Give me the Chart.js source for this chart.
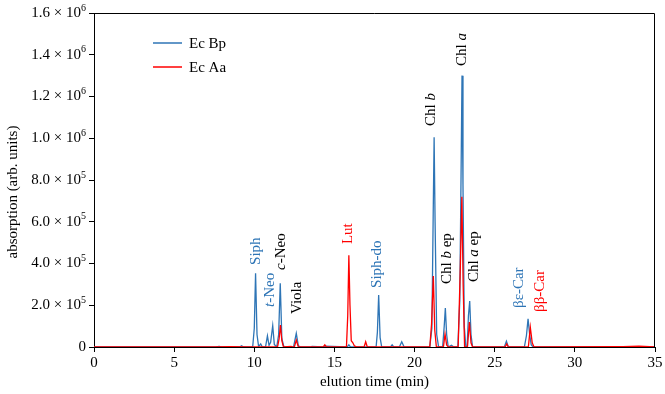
<!DOCTYPE html>
<html>
<head>
<meta charset="utf-8">
<script src="https://cdn.jsdelivr.net/npm/chart.js@4.4.1/dist/chart.umd.min.js"></script>
<style>
  html, body { margin: 0; padding: 0; background: #fff; }
  #wrap { width: 665px; height: 394px; }
</style>
</head>
<body>
<div id="wrap"><canvas id="chromChart" width="665" height="394"></canvas></div>
<script>
// elution time (min) and absorption for Ec Bp (blue)
const timeBp = [0, 7.6, 7.8, 8.0, 9.1, 9.2, 9.35, 9.9, 10.0, 10.08, 10.17, 10.27, 10.4, 10.5,
  10.7, 10.82, 10.92, 11.02, 11.15, 11.25, 11.4, 11.52, 11.62, 11.72, 11.85,
  12.45, 12.62, 12.75, 12.9, 13.5, 13.6, 14.3, 14.4, 15.8, 15.9, 16.0,
  17.6, 17.68, 17.76, 17.85, 17.95, 18.5, 18.6, 18.7, 19.05, 19.2, 19.35,
  20.95, 21.08, 21.16, 21.22, 21.28, 21.38, 21.5,
  21.75, 21.85, 21.92, 22.0, 22.1, 22.3, 22.45,
  22.7, 22.82, 22.9, 22.96, 23.02, 23.1, 23.2,
  23.28, 23.36, 23.44, 23.52, 23.62,
  25.6, 25.73, 25.85, 26.85, 26.98, 27.08, 27.18, 27.28, 27.4, 35];
const valueBp = [0, 0, 3000, 0, 0, 6000, 0, 0, 90000, 353000, 60000, 2000, 15000, 0,
  0, 53000, 8000, 22000, 102000, 12000, 0, 60000, 305000, 40000, 0,
  0, 65000, 6000, 0, 0, 3000, 0, 4000, 0, 10000, 0,
  0, 70000, 249000, 45000, 0, 0, 10000, 0, 0, 25000, 0,
  0, 90000, 620000, 1005000, 600000, 60000, 0,
  0, 100000, 187000, 60000, 0, 8000, 0,
  0, 220000, 820000, 1300000, 780000, 100000, 0,
  0, 150000, 220000, 60000, 0,
  0, 28000, 0, 0, 55000, 135000, 60000, 10000, 0, 0];

// elution time (min) and absorption for Ec Aa (red)
const timeAa = [0, 7.5, 8.5, 9.5, 11.45, 11.55, 11.63, 11.72, 11.82,
  12.3, 12.4, 12.5, 12.62, 12.75, 14.3, 14.4, 14.5,
  15.75, 15.83, 15.9, 15.97, 16.05, 16.15, 16.25, 16.4,
  16.85, 16.95, 17.05, 20.95, 21.06, 21.17, 21.26, 21.36,
  21.8, 21.9, 22.0, 22.1, 22.72, 22.86, 22.95, 23.03, 23.12,
  23.3, 23.42, 23.52, 23.62, 25.65, 25.75, 25.85,
  27.1, 27.22, 27.34, 27.45, 33, 34, 35];
const valueAa = [0, 1000, 2000, 1000, 0, 40000, 105000, 30000, 0,
  3000, 0, 0, 33000, 0, 0, 10000, 0,
  0, 150000, 440000, 200000, 30000, 20000, 5000, 0,
  0, 25000, 0, 0, 110000, 340000, 80000, 0,
  0, 62000, 10000, 0, 0, 400000, 720000, 300000, 0,
  0, 120000, 20000, 0, 0, 15000, 0,
  0, 95000, 20000, 0, 2000, 4000, 1000];

const seriesNames = ['Ec Bp', 'Ec Aa'];
const blue = '#2e75b6';
const red = '#ff0000';

// peak labels: segments [text, italic], anchor time and value at bottom of text
const peakLabels = [
  { parts: [['Siph', false]], t: 10.1, v: 393000, color: blue },
  { parts: [['t', true], ['-Neo', false]], t: 10.98, v: 192000, color: blue },
  { parts: [['c', true], ['-Neo', false]], t: 11.67, v: 369000, color: '#000' },
  { parts: [['Viola', false]], t: 12.66, v: 158000, color: '#000' },
  { parts: [['Lut', false]], t: 15.85, v: 493000, color: red },
  { parts: [['Siph-do', false]], t: 17.65, v: 283000, color: blue },
  { parts: [['Chl ', false], ['b', true]], t: 21.02, v: 1059000, color: '#000' },
  { parts: [['Chl ', false], ['b', true], [' ep', false]], t: 22.02, v: 302000, color: '#000' },
  { parts: [['Chl ', false], ['a', true]], t: 22.96, v: 1346000, color: '#000' },
  { parts: [['Chl ', false], ['a', true], [' ep', false]], t: 23.7, v: 311000, color: '#000' },
  { parts: [['βε-Car', false]], t: 26.51, v: 187000, color: blue },
  { parts: [['ββ-Car', false]], t: 27.82, v: 168000, color: red }
];

const serif = '"Liberation Serif", "Times New Roman", serif';

const toPoints = (ts, vs) => ts.map((t, i) => ({ x: t, y: vs[i] }));

const decorations = {
  id: 'decorations',
  afterDraw(chart) {
    const ctx = chart.ctx;
    const area = chart.chartArea;
    const xs = chart.scales.x;
    const ys = chart.scales.y;
    ctx.save();

    // frame top + right
    ctx.strokeStyle = '#000';
    ctx.lineWidth = 1;
    ctx.beginPath();
    ctx.moveTo(area.left, area.top + 0.5);
    ctx.lineTo(area.right - 0.5, area.top + 0.5);
    ctx.lineTo(area.right - 0.5, area.bottom);
    ctx.stroke();

    // y tick labels with powers of ten
    ctx.fillStyle = '#000';
    ctx.textBaseline = 'middle';
    ys.ticks.forEach(tk => {
      const y = ys.getPixelForValue(tk.value);
      const right = 86;
      if (tk.value === 0) {
        ctx.font = '15px ' + serif;
        ctx.textAlign = 'right';
        ctx.fillText('0', right, y);
        return;
      }
      const exp = Math.floor(Math.log10(tk.value));
      const mant = (tk.value / Math.pow(10, exp)).toFixed(1);
      ctx.font = '10px ' + serif;
      const supW = ctx.measureText(String(exp)).width;
      ctx.textAlign = 'right';
      ctx.fillText(String(exp), right, y - 5);
      ctx.font = '15px ' + serif;
      ctx.fillText(mant + ' × 10', right - supW, y);
    });

    // axis titles
    ctx.font = '15px ' + serif;
    ctx.textAlign = 'center';
    ctx.fillText('elution time (min)', (area.left + area.right) / 2, 382);
    ctx.save();
    ctx.translate(13, 192);
    ctx.rotate(-Math.PI / 2);
    ctx.fillText('absorption (arb. units)', 0, 0);
    ctx.restore();

    // legend
    const legendRows = [[seriesNames[0], blue, 43], [seriesNames[1], red, 67]];
    legendRows.forEach(([name, col, y]) => {
      ctx.strokeStyle = col;
      ctx.lineWidth = 1.5;
      ctx.beginPath();
      ctx.moveTo(153, y);
      ctx.lineTo(182, y);
      ctx.stroke();
      ctx.fillStyle = '#000';
      ctx.textAlign = 'left';
      ctx.fillText(name, 189, y + 1);
    });

    // peak labels, rotated
    peakLabels.forEach(lb => {
      const px = xs.getPixelForValue(lb.t);
      const py = ys.getPixelForValue(lb.v);
      ctx.save();
      ctx.translate(px, py);
      ctx.rotate(-Math.PI / 2);
      ctx.fillStyle = lb.color;
      ctx.textAlign = 'left';
      ctx.textBaseline = 'middle';
      let off = 0;
      lb.parts.forEach(([txt, it]) => {
        ctx.font = (it ? 'italic ' : '') + '15px ' + serif;
        ctx.fillText(txt, off, 0);
        off += ctx.measureText(txt).width;
      });
      ctx.restore();
    });

    ctx.restore();
  }
};

new Chart(document.getElementById('chromChart').getContext('2d'), {
  type: 'line',
  data: {
    datasets: [
      {
        label: seriesNames[1],
        data: toPoints(timeAa, valueAa),
        borderColor: red,
        borderWidth: 1.3,
        pointRadius: 0,
        tension: 0,
        order: 0
      },
      {
        label: seriesNames[0],
        data: toPoints(timeBp, valueBp),
        borderColor: blue,
        borderWidth: 1.3,
        pointRadius: 0,
        tension: 0,
        order: 1
      }
    ]
  },
  options: {
    responsive: false,
    animation: false,
    layout: { padding: { top: 13, right: 10, left: 0, bottom: 0 } },
    plugins: { legend: { display: false }, tooltip: { enabled: false } },
    scales: {
      x: {
        type: 'linear',
        min: 0,
        max: 35,
        afterFit: s => { s.height = 47; },
        ticks: { stepSize: 5, color: '#000', font: { family: serif, size: 15 }, padding: 2, maxRotation: 0 },
        grid: { drawOnChartArea: false, drawTicks: true, tickLength: 5, color: '#000' },
        border: { color: '#000', width: 1 }
      },
      y: {
        min: 0,
        max: 1600000,
        afterFit: s => { s.width = 94; },
        ticks: { stepSize: 200000, color: 'rgba(0,0,0,0)', font: { family: serif, size: 15 } },
        grid: { drawOnChartArea: false, drawTicks: true, tickLength: 5, color: '#000' },
        border: { color: '#000', width: 1 }
      }
    }
  },
  plugins: [decorations]
});
</script>
</body>
</html>
